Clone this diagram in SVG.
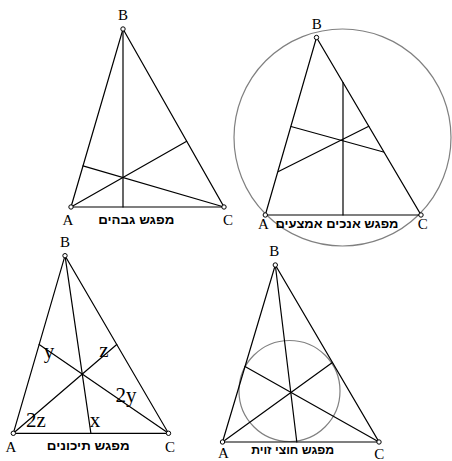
<svg xmlns="http://www.w3.org/2000/svg" width="452" height="461" viewBox="0 0 452 461">
<style>
.l{stroke:#000;stroke-width:1.2;fill:none;stroke-linecap:round}
.c{stroke:#808080;stroke-width:1.2;fill:none}
.v{stroke:#000;stroke-width:1;fill:#fff}
.lb{font-family:"Liberation Serif","Times New Roman",serif;font-size:15px;fill:#000;text-anchor:middle}
.sm{font-family:"Liberation Serif","Times New Roman",serif;font-size:21px;fill:#000;text-anchor:middle}
.hb{font-family:"Liberation Sans","DejaVu Sans",sans-serif;font-size:12px;font-weight:bold;fill:#000;text-anchor:middle}
</style>
<rect width="452" height="461" fill="#fff"/>

<g id="orthocenter">
  <g id="orthocenter-lines">
    <polygon class="l" points="71,207 123,29 224,207"/>
    <line class="l" x1="123" y1="29" x2="123" y2="207"/>
    <line class="l" x1="71" y1="207" x2="186.7" y2="141.3"/>
    <line class="l" x1="224" y1="207" x2="83" y2="165.8"/>
  </g>
  <circle class="v" cx="71" cy="207" r="2.2"/>
  <circle class="v" cx="123" cy="29" r="2.2"/>
  <circle class="v" cx="224" cy="207" r="2.2"/>
  <text class="lb" x="123" y="19.5">B</text>
  <text class="lb" x="68" y="224.5">A</text>
  <text class="lb" x="228" y="224.5">C</text>
  <text class="hb" x="136.3" y="224" textLength="76" lengthAdjust="spacingAndGlyphs">מפגש גבהים</text>
</g>

<g id="circumcenter">
  <circle class="c" cx="342.5" cy="137.5" r="108.5"/>
  <g id="circumcenter-lines">
    <polygon class="l" points="265.3,215 316.5,37.5 421,215"/>
    <line class="l" x1="343" y1="215" x2="343" y2="82.5"/>
    <line class="l" x1="291" y1="126.5" x2="383.5" y2="152"/>
    <line class="l" x1="368.8" y1="126.3" x2="278.5" y2="171.5"/>
  </g>
  <circle class="v" cx="265.3" cy="215" r="2.2"/>
  <circle class="v" cx="316.5" cy="37.5" r="2.2"/>
  <circle class="v" cx="421" cy="215" r="2.2"/>
  <text class="lb" x="316.7" y="28.5">B</text>
  <text class="lb" x="263.3" y="228.5">A</text>
  <text class="lb" x="422.7" y="229">C</text>
  <text class="hb" x="337" y="227.5" textLength="123" lengthAdjust="spacingAndGlyphs">מפגש אנכים אמצעים</text>
</g>

<g id="centroid">
  <g id="centroid-lines">
    <polygon class="l" points="13.3,433.3 65,255.7 168.5,433.3"/>
    <line class="l" x1="65" y1="255.7" x2="90.9" y2="433.3"/>
    <line class="l" x1="13.3" y1="433.3" x2="116.75" y2="344.5"/>
    <line class="l" x1="168.5" y1="433.3" x2="39.15" y2="344.5"/>
  </g>
  <circle class="v" cx="13.3" cy="433.3" r="2.2"/>
  <circle class="v" cx="65" cy="255.7" r="2.2"/>
  <circle class="v" cx="168.5" cy="433.3" r="2.2"/>
  <text class="lb" x="65" y="246.5">B</text>
  <text class="lb" x="11" y="451.5">A</text>
  <text class="lb" x="170" y="452">C</text>
  <text class="sm" x="49" y="357.5">y</text>
  <text class="sm" x="104" y="356.7">z</text>
  <text class="sm" x="126" y="401.7">2y</text>
  <text class="sm" x="36" y="426.7">2z</text>
  <text class="sm" x="95" y="426.7">x</text>
  <text class="hb" x="88.3" y="450" textLength="83" lengthAdjust="spacingAndGlyphs">מפגש תיכונים</text>
</g>

<g id="incenter">
  <circle class="c" cx="289.5" cy="391" r="50.5"/>
  <g id="incenter-lines">
    <polygon class="l" points="222.5,442 275.3,265 379,442"/>
    <line class="l" x1="275.3" y1="265" x2="296.8" y2="442"/>
    <line class="l" x1="222.5" y1="442" x2="332.4" y2="362.5"/>
    <line class="l" x1="379" y1="442" x2="245" y2="366.5"/>
  </g>
  <circle class="v" cx="222.5" cy="442" r="2.2"/>
  <circle class="v" cx="275.3" cy="265" r="2.2"/>
  <circle class="v" cx="379" cy="442" r="2.2"/>
  <text class="lb" x="274.3" y="256">B</text>
  <text class="lb" x="223.3" y="458">A</text>
  <text class="lb" x="379.3" y="458.5">C</text>
  <text class="hb" x="292.7" y="454" textLength="83" lengthAdjust="spacingAndGlyphs">מפגש חוצי זוית</text>
</g>
</svg>
